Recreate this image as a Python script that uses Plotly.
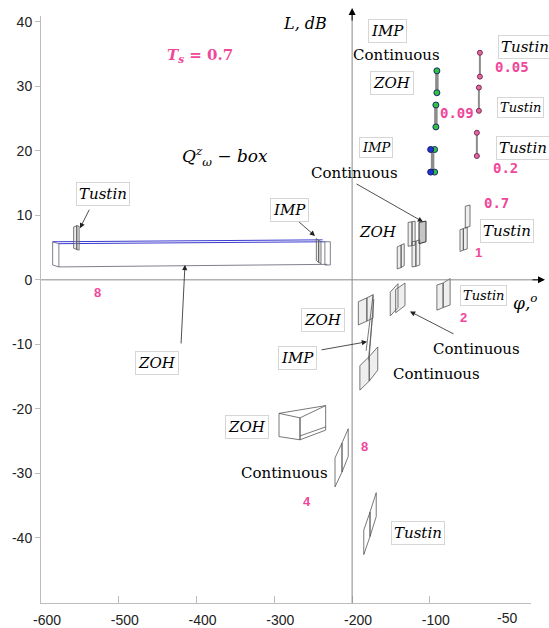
import plotly.graph_objects as go

# ---------------- data (phase in degrees, magnitude in dB) ----------------
x_tick_vals = [-600, -500, -400, -300, -200, -100]
x_tick_text = ["-600", "-500", "-400", "-300", "-200", "-100"]
y_tick_vals = [-40, -30, -20, -10, 0, 10, 20, 30, 40]
y_tick_text = ["-40", "-30", "-20", "-10", "0", "10", "20", "30", "40"]

# Q-box templates (polygon vertices, None separates polygons)
zoh8_x = [-585, -577, -577, -585, -585, None, -577, -232, None, -235, -228, -228, -235, -235]
zoh8_y = [5.9, 5.6, 2.0, 2.3, 5.9, None, 2.0, 2.4, None, 5.9, 5.9, 2.3, 2.3, 5.9]
zoh8_top_x = [-585, -238, None, -577, -235]
zoh8_top_y = [5.9, 6.2, None, 5.6, 5.9]
imp8_x = [-246, -243, -243, -246, -246, None, -243, -240, -240, -243, -243]
imp8_y = [6.4, 6.1, 2.7, 3.0, 6.4, None, 6.1, 5.9, 2.5, 2.7, 6.1]
tus8a_x = [-558, -554, -554, -558, -558, None, -554, -551, -551, -554, -554]
tus8a_y = [8.2, 8.4, 4.7, 4.9, 8.2, None, 8.4, 8.3, 4.6, 4.7, 8.4]

zoh1_x = [-142, -137, -137, -142, -142, None, -137, -133, -133, -137, -137]
zoh1_y = [5.1, 5.4, 1.9, 1.7, 5.1, None, 5.4, 5.6, 2.2, 1.9, 5.4]
imp1_x = [-128, -123, -123, -128, -128, None, -123, -119, -119, -123, -123,
          None, -123, -118, -118, -123, -123, None, -118, -113, -113, -118, -118]
imp1_y = [8.9, 9.0, 5.3, 5.2, 8.9, None, 9.0, 9.1, 5.4, 5.3, 9.0,
          None, 5.9, 6.0, 2.1, 2.0, 5.9, None, 6.0, 6.2, 2.3, 2.1, 6.0]
cont1_x = [-114, -105, -105, -114, -114]
cont1_y = [8.9, 9.1, 5.9, 5.6, 8.9]
tus1_x = [-54.5, -48.4, -48.4, -54.5, -54.5, None, -61.3, -57, -57, -61.3, -61.3,
          None, -57, -52, -52, -57, -57]
tus1_y = [11.4, 11.6, 8.3, 8.0, 11.4, None, 7.75, 7.95, 4.6, 4.4, 7.75,
          None, 7.95, 8.2, 4.8, 4.6, 7.95]

zoh2_x = [-192, -181, -181, -192, -192, None, -181, -173, -173, -181, -181]
zoh2_y = [-3.4, -2.8, -6.4, -7.0, -3.4, None, -2.8, -2.3, -5.9, -6.4, -2.8]
imp2_x = [-173, -182, None, -174, -178, None, -172, -179]
imp2_y = [-2.3, -11.0, None, -5.9, -11.9, None, -3.0, -12.5]
cont2a_x = [-190, -178, -178, -190, -190, None, -178, -167, -167, -178, -178]
cont2a_y = [-13.3, -11.9, -15.7, -17.1, -13.3, None, -11.9, -10.4, -14.0, -15.7, -11.9]
cont2b_x = [-151, -141, -141, -151, -151, None, -144, -132, -132, -144, -144]
cont2b_y = [-1.9, -0.6, -4.3, -5.6, -1.9, None, -1.5, -0.5, -4.0, -5.1, -1.5]
tus2_x = [-91, -83, -83, -91, -91, None, -83, -74, -74, -83, -83]
tus2_y = [-0.8, -0.5, -4.3, -4.7, -0.8, None, -0.5, 0.2, -3.9, -4.3, -0.5]

zoh4_x = [-294, -267, -267, -294, -294, None, -267, -234, -234, -267, -267,
          None, -294, -234, None, -267, -234]
zoh4_y = [-20.7, -21.4, -24.8, -24.3, -20.7, None, -21.4, -19.5, -23.3, -24.8, -21.4,
          None, -20.7, -19.5, None, -24.2, -22.8]
cont4_x = [-222, -213, -213, -222, -222, None, -213, -205, -205, -213, -213]
cont4_y = [-27.6, -25.3, -29.8, -32.1, -27.6, None, -25.3, -23.1, -27.4, -29.8, -25.3]
tus8b_x = [-185, -177, -177, -185, -185, None, -177, -169, -169, -177, -177]
tus8b_y = [-38.8, -36.0, -39.8, -42.6, -38.8, None, -36.0, -33.0, -36.7, -39.8, -36.0]

# point templates at high frequency
green_x = [-91.0, -91.0, -92.3, -92.3, -93.9, -93.9]
green_y = [32.4, 29.0, 27.1, 23.7, 20.2, 16.7]
blue_x = [-99.0, -99.0]
blue_y = [20.2, 16.7]
gline_x = [-91.0, -91.0, None, -92.3, -92.3, None, -96.5, -96.5]
gline_y = [32.4, 29.0, None, 27.1, 23.7, None, 20.2, 16.7]
pink_x = [-35.7, -35.7, -37.0, -37.0, -39.6, -39.6]
pink_y = [35.2, 31.5, 29.8, 26.2, 22.8, 19.2]
pline_x = [-35.7, -35.7, None, -37.0, -37.0, None, -39.6, -39.6]
pline_y = [35.2, 31.5, None, 29.8, 26.2, None, 22.8, 19.2]

# --------------------------------------------------------------------------
PINK = "#f0479a"
fig = go.Figure()


def poly(xs, ys, color="#555555", fill=None, width=0.8):
    fig.add_trace(go.Scatter(
        x=xs, y=ys, mode="lines", line=dict(color=color, width=width),
        fill="toself" if fill else None, fillcolor=fill,
        hoverinfo="skip", showlegend=False))


light = "rgba(205,205,205,0.35)"
poly(zoh8_x, zoh8_y, color="#606070", fill=None)
poly(zoh8_top_x, zoh8_top_y, color="#3b3bd0", width=1)
poly(imp8_x, imp8_y, fill=light)
poly(tus8a_x, tus8a_y, fill=light)
poly(zoh1_x, zoh1_y, fill=light)
poly(imp1_x, imp1_y, fill=light)
poly(cont1_x, cont1_y, color="#333333", fill="rgba(150,150,150,0.55)", width=1)
poly(tus1_x, tus1_y, fill=light)
poly(zoh2_x, zoh2_y, fill=light)
poly(imp2_x, imp2_y)
poly(cont2a_x, cont2a_y, fill=light)
poly(cont2b_x, cont2b_y, fill=light)
poly(tus2_x, tus2_y, fill=light)
poly(zoh4_x, zoh4_y)
poly(cont4_x, cont4_y)
poly(tus8b_x, tus8b_y)

poly(gline_x, gline_y, color="#8c8c8c", width=3.5)
poly(pline_x, pline_y, color="#8c8c8c", width=2)
fig.add_trace(go.Scatter(x=green_x, y=green_y, mode="markers", hoverinfo="skip",
                         marker=dict(size=6, color="#2fc43c", line=dict(color="#1b2a70", width=1)),
                         showlegend=False))
fig.add_trace(go.Scatter(x=blue_x, y=blue_y, mode="markers", hoverinfo="skip",
                         marker=dict(size=6, color="#1f33d8", line=dict(color="#101a60", width=1)),
                         showlegend=False))
fig.add_trace(go.Scatter(x=pink_x, y=pink_y, mode="markers", hoverinfo="skip",
                         marker=dict(size=5, color="#e4679f", line=dict(color="#7a2c55", width=1)),
                         showlegend=False))

SERIF = "DejaVu Serif"
ann = []


def label(text, x, y, size=15, box=False, italic=True, color="black", family=SERIF,
          xref="x", yref="y", bold=False):
    t = text
    if italic:
        t = "<i>" + t + "</i>"
    if bold:
        t = "<b>" + t + "</b>"
    d = dict(text=t, x=x, y=y, xref=xref, yref=yref, showarrow=False,
             font=dict(family=family, size=size, color=color))
    if box:
        d.update(bgcolor="white", bordercolor="#d6d6d6", borderwidth=1, borderpad=2)
    ann.append(d)


def arrow(x0, y0, x1, y1):
    ann.append(dict(text="", x=x1, y=y1, ax=x0, ay=y0, xref="x", yref="y",
                    axref="x", ayref="y", showarrow=True, arrowhead=2, arrowsize=1.3,
                    arrowwidth=0.8, arrowcolor="#222222"))


def num(text, x, y, size=14, mono=True):
    fam = "DejaVu Sans Mono" if mono else "Liberation Sans"
    label(text, x, y, size=size, italic=False, bold=True, color=PINK, family=fam)


# arrows first so boxes sit over them
arrow(-196.3, 15.0, -108.9, 9.0)
arrow(-67.7, -8.5, -125.6, -4.9)
arrow(-241.3, -10.9, -180.9, -9.6)
arrow(-537, 11.1, -549.9, 8.0)
arrow(-271.3, 9.3, -247.7, 6.8)
arrow(-420, -10.1, -414.9, 2.3)

label("IMP", -153.9, 38.6, box=True)
label("Continuous", -142.3, 34.9, italic=False)
label("ZOH", -148.7, 30.5, box=True)
num("0.09", -65.2, 25.9)
label("Tustin", 22.3, 36.1, box=True)
num("0.05", 5.6, 33.0)
label("Tustin", 15.9, 26.7, size=13, box=True)
label("Tustin", 19.7, 20.5, box=True)
num("0.2", -3.4, 17.4)
label("IMP", -169.3, 20.5, size=13, box=True)
label("Continuous", -196.3, 16.6, italic=False)
num("0.7", -15, 11.9)
label("ZOH", -166.7, 7.4)
label("Tustin", -0.9, 7.6, box=True)
num("1", -36.9, 4.2, size=13, mono=False)
label("Tustin", -31.7, -2.5, size=13, box=True)
num("2", -57.4, -5.9, size=13, mono=False)
label("Continuous", -40.7, -10.7, italic=False)
label("Continuous", -91.9, -14.6, italic=False)
label("ZOH", -237.4, -6.2, box=True)
label("IMP", -269.6, -12.1, box=True)
label("ZOH", -335.1, -22.8, box=True)
label("Continuous", -286.3, -29.9, italic=False)
num("8", -184.7, -25.9, size=13, mono=False)
num("4", -258, -34.4, size=13, mono=False)
label("Tustin", -115.3, -39.2, box=True)
label("Tustin", -520.3, 13.3, box=True)
label("IMP", -279.9, 10.9, box=True)
label("ZOH", -450.9, -12.9, box=True)
num("8", -528, -1.9, size=13, mono=False)
label("<i>T</i><sub><i>s</i></sub> = 0.7", -395.6, 34.7, size=15, italic=False,
      bold=True, color=PINK)
label("Q<sup>z</sup><sub>ω</sub> − box", -363.4, 19.1, size=17)
label("L, dB", -260.6, 39.8, size=16)
label("φ,<sup>o</sup>", 1.016, -3.4, size=17, xref="paper")
ann.append(dict(text="-50", x=-1, y=-0.009, xref="x", yref="paper", yanchor="top",
                showarrow=False, font=dict(family="Liberation Sans", size=14, color="#222")))

# coordinate axis arrows
ann.append(dict(text="", x=1.0286, y=0, xref="paper", yref="y", ax=-14, ay=0,
                showarrow=True, arrowhead=2, arrowsize=1.4, arrowwidth=1, arrowcolor="black"))
ann.append(dict(text="", x=-200, y=1.0136, xref="x", yref="paper", ax=0, ay=14,
                showarrow=True, arrowhead=2, arrowsize=1.4, arrowwidth=1, arrowcolor="black"))

shapes = [
    dict(type="line", xref="paper", yref="y", x0=0, x1=1.02, y0=0, y1=0,
         line=dict(color="#8a8a8a", width=1)),
    dict(type="line", xref="x", yref="paper", x0=-200, x1=-200, y0=0, y1=1.005,
         line=dict(color="#8a8a8a", width=1)),
]

fig.update_layout(
    width=549, height=628,
    margin=dict(l=41, r=18, t=16, b=25, autoexpand=False),
    paper_bgcolor="white", plot_bgcolor="white",
    annotations=ann, shapes=shapes, showlegend=False,
    xaxis=dict(range=[-600, 30], tickvals=x_tick_vals, ticktext=x_tick_text,
               ticks="inside", ticklen=7, tickcolor="#bdbdbd", showline=True,
               linecolor="#bdbdbd", linewidth=1, showgrid=False, zeroline=False,
               automargin=False, ticklabelshift=6, ticklabelstandoff=4,
               tickfont=dict(family="Liberation Sans", size=14, color="#222")),
    yaxis=dict(range=[-50.1, 40.9], tickvals=y_tick_vals, ticktext=y_tick_text,
               ticks="outside", ticklen=5, tickcolor="#bdbdbd", showline=True,
               linecolor="#bdbdbd", linewidth=1, showgrid=False, zeroline=False,
               automargin=False,
               tickfont=dict(family="Liberation Sans", size=14, color="#222")),
)

fig.write_html("out.html")
